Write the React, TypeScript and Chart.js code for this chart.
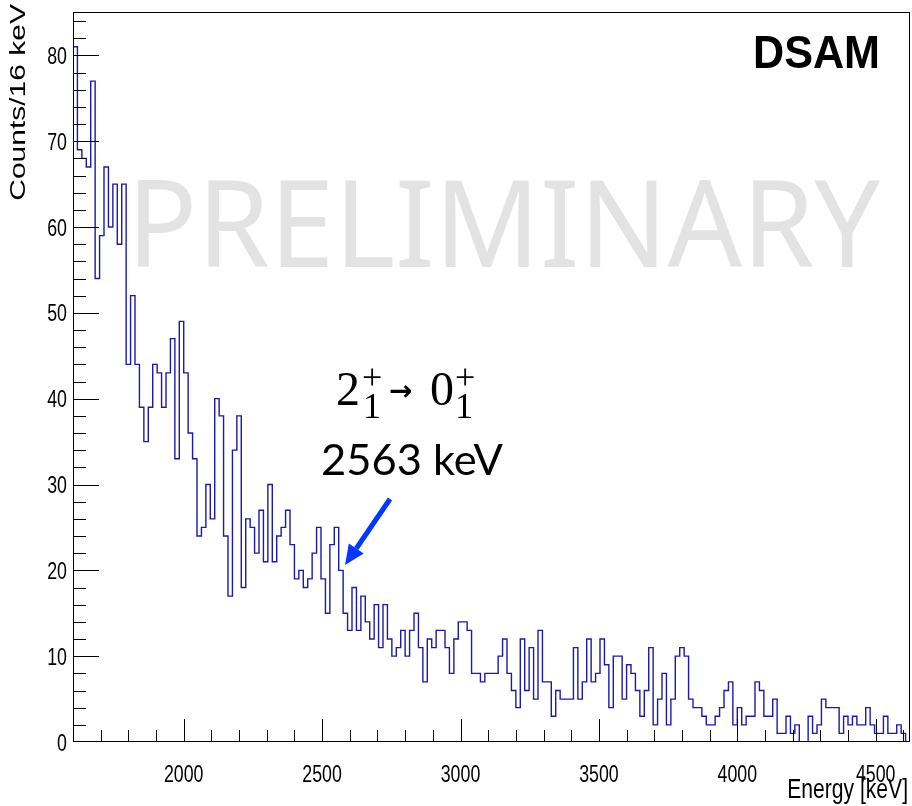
import React, { useEffect, useRef } from "react";
import { Chart, registerables } from "chart.js";

Chart.register(...registerables);

// ---- data ----
const binStart = 1600; // keV
const binWidth = 16; // keV
const counts = [
  81, 69, 68, 67, 77, 54, 59, 67, 60, 65, 58, 65, 44, 52, 44, 39, 35, 39, 44, 43,
  39, 43, 47, 33, 49, 43, 36, 33, 24, 25, 30, 26, 40, 38, 24, 17, 34, 38, 18, 26,
  25, 22, 27, 21, 30, 21, 24, 25, 27, 23, 19, 20, 18, 19, 22, 25, 19, 15, 23, 25,
  20, 15, 13, 18, 13, 17, 14, 12, 16, 11, 16, 12, 10, 11, 13, 10, 13, 15, 11, 7,
  12, 11, 13, 13, 11, 8, 12, 14, 14, 13, 8, 8, 7, 8, 8, 8, 10, 12, 8, 6,
  4, 12, 6, 11, 5, 13, 7, 7, 3, 6, 5, 5, 5, 11, 5, 7, 12, 7, 8, 12,
  9, 4, 10, 10, 5, 9, 8, 6, 3, 6, 11, 2, 5, 8, 2, 5, 10, 11, 10, 5,
  4, 4, 3, 2, 2, 3, 4, 6, 7, 2, 4, 2, 3, 3, 7, 6, 3, 3, 5, 1,
  1, 3, 1, 2, 0, 0, 3, 1, 2, 5, 4, 4, 4, 1, 3, 2, 3, 2, 2, 4,
  2, 1, 1, 3, 1, 1, 2, 1, 0,
];
const xMin = 1600;
const xMax = 4624;
const yMin = 0;
const yMax = 85.05;
const xTickLabels = [2000, 2500, 3000, 3500, 4000, 4500];
const yTickLabels = [0, 10, 20, 30, 40, 50, 60, 70, 80];
const xMinorStep = 100;
const yMinorStep = 2;
const xTitle = "Energy [keV]";
const yTitle = "Counts/16 keV";
const watermark = "PRELIMINARY";
const tag = "DSAM";
const energyLabel = "2563 keV";

const SX = 0.74; // horizontal compression of ROOT text

function drawScaledText(
  ctx: CanvasRenderingContext2D,
  text: string,
  x: number,
  y: number,
  font: string,
  align: CanvasTextAlign,
  sx: number,
  color = "#000"
) {
  ctx.save();
  ctx.translate(x, y);
  ctx.scale(sx, 1);
  ctx.font = font;
  ctx.fillStyle = color;
  ctx.textAlign = align;
  ctx.textBaseline = "alphabetic";
  ctx.fillText(text, 0, 0);
  ctx.restore();
}

function drawFitText(
  ctx: CanvasRenderingContext2D,
  text: string,
  left: number,
  baseline: number,
  width: number,
  font: string,
  color: string
) {
  ctx.save();
  ctx.font = font;
  const w = ctx.measureText(text).width;
  ctx.translate(left, baseline);
  ctx.scale(width / w, 1);
  ctx.fillStyle = color;
  ctx.textAlign = "left";
  ctx.textBaseline = "alphabetic";
  ctx.fillText(text, 0, 0);
  ctx.restore();
}

const watermarkPlugin = {
  id: "watermark",
  beforeDatasetsDraw(chart: any) {
    const ctx: CanvasRenderingContext2D = chart.ctx;
    drawFitText(ctx, watermark, 127, 267, 753, "400 120px 'Noto Sans'", "#e3e3e3");
  },
};

const rootAxesPlugin = {
  id: "rootAxes",
  afterDatasetsDraw(chart: any) {
    const ctx: CanvasRenderingContext2D = chart.ctx;
    const ca = chart.chartArea;
    const xs = chart.scales.x;
    const ys = chart.scales.y;
    ctx.save();
    ctx.strokeStyle = "#000";
    ctx.lineWidth = 1;
    // frame
    ctx.strokeRect(
      Math.round(ca.left) + 0.5,
      Math.round(ca.top) + 0.5,
      Math.round(ca.right - ca.left) - 1,
      Math.round(ca.bottom - ca.top) - 1
    );
    ctx.beginPath();
    // x ticks
    for (let v = xMin + xMinorStep; v < xMax; v += xMinorStep) {
      const px = Math.round(xs.getPixelForValue(v)) + 0.5;
      const len = xTickLabels.includes(v) ? 23 : 12;
      ctx.moveTo(px, ca.bottom);
      ctx.lineTo(px, ca.bottom - len);
    }
    // y ticks
    for (let v = yMin + yMinorStep; v < yMax; v += yMinorStep) {
      const py = Math.round(ys.getPixelForValue(v)) + 0.5;
      const len = yTickLabels.includes(v) ? 26 : 13;
      ctx.moveTo(ca.left, py);
      ctx.lineTo(ca.left + len, py);
    }
    ctx.stroke();
    ctx.restore();

    // tick labels
    for (const v of xTickLabels) {
      drawScaledText(ctx, String(v), xs.getPixelForValue(v), 782, "24px 'Liberation Sans'", "center", SX);
    }
    for (const v of yTickLabels) {
      drawScaledText(ctx, String(v), 67, ys.getPixelForValue(v) + 8.5, "24px 'Liberation Sans'", "right", SX);
    }
    // axis titles
    drawScaledText(ctx, xTitle, 908, 798, "28.5px 'Liberation Sans'", "right", SX);
    ctx.save();
    ctx.translate(25, 4);
    ctx.scale(SX, 1);
    ctx.rotate(-Math.PI / 2);
    ctx.font = "30px 'Liberation Sans'";
    ctx.fillStyle = "#000";
    ctx.textAlign = "right";
    ctx.textBaseline = "alphabetic";
    ctx.fillText(yTitle, 0, 0);
    ctx.restore();

    // DSAM tag
    drawFitText(ctx, tag, 753, 68, 127, "bold 46px 'Liberation Sans'", "#000");

    // transition label
    ctx.save();
    ctx.fillStyle = "#000";
    ctx.textAlign = "left";
    ctx.textBaseline = "alphabetic";
    ctx.font = "48px 'Liberation Serif'";
    ctx.fillText("2", 336, 405);
    ctx.fillText("0", 430, 405);
    ctx.font = "36px 'Liberation Serif'";
    ctx.fillText("1", 363, 418);
    ctx.fillText("+", 362, 389);
    ctx.fillText("1", 455, 418);
    ctx.fillText("+", 455, 389);
    ctx.font = "bold 28px 'DejaVu Sans'";
    ctx.fillText("\u2192", 389, 400);
    ctx.restore();
    drawFitText(ctx, energyLabel, 321, 475, 182, "42px Lato", "#000");

    // blue arrow
    ctx.save();
    ctx.strokeStyle = "#0536ff";
    ctx.fillStyle = "#0536ff";
    ctx.lineWidth = 5;
    const x0 = 390, y0 = 499, x1 = 345, y1 = 565;
    const ang = Math.atan2(y1 - y0, x1 - x0);
    const headLen = 20, headHalf = 9;
    const bx = x1 - headLen * Math.cos(ang);
    const by = y1 - headLen * Math.sin(ang);
    ctx.beginPath();
    ctx.moveTo(x0, y0);
    ctx.lineTo(bx, by);
    ctx.stroke();
    ctx.beginPath();
    ctx.moveTo(x1, y1);
    ctx.lineTo(bx + headHalf * Math.sin(ang), by - headHalf * Math.cos(ang));
    ctx.lineTo(bx - headHalf * Math.sin(ang), by + headHalf * Math.cos(ang));
    ctx.closePath();
    ctx.fill();
    ctx.restore();
  },
};

export default function App() {
  const canvasRef = useRef<HTMLCanvasElement | null>(null);

  useEffect(() => {
    const canvas = canvasRef.current;
    if (!canvas) return;
    const points: { x: number; y: number }[] = [{ x: binStart, y: 0 }];
    counts.forEach((c, i) => points.push({ x: binStart + binWidth * i, y: c }));
    const end = binStart + binWidth * counts.length;
    points.push({ x: end, y: counts[counts.length - 1] });
    points.push({ x: end, y: 0 });

    const chart = new Chart(canvas, {
      type: "line",
      data: {
        datasets: [
          {
            data: points,
            stepped: "before",
            borderColor: "#1a1aac",
            borderWidth: 1.4,
            pointRadius: 0,
            fill: false,
            tension: 0,
          } as any,
        ],
      },
      options: {
        animation: false,
        responsive: false,
        maintainAspectRatio: false,
        devicePixelRatio: 1,
        layout: { padding: { top: 12, right: 2, left: 0, bottom: 0 } },
        plugins: { legend: { display: false }, tooltip: { enabled: false } },
        scales: {
          x: {
            type: "linear",
            min: xMin,
            max: xMax,
            grid: { display: false },
            border: { display: false },
            ticks: { display: false },
            afterFit: (s: any) => {
              s.height = 64;
            },
          },
          y: {
            type: "linear",
            min: yMin,
            max: yMax,
            grid: { display: false },
            border: { display: false },
            ticks: { display: false },
            afterFit: (s: any) => {
              s.width = 73;
            },
          },
        },
      } as any,
      plugins: [watermarkPlugin, rootAxesPlugin],
    });
    return () => chart.destroy();
  }, []);

  return (
    <div style={{ position: "fixed", left: 0, top: 0, width: 912, height: 806, background: "#fff" }}>
      <canvas ref={canvasRef} width={912} height={806} style={{ display: "block" }} />
    </div>
  );
}
